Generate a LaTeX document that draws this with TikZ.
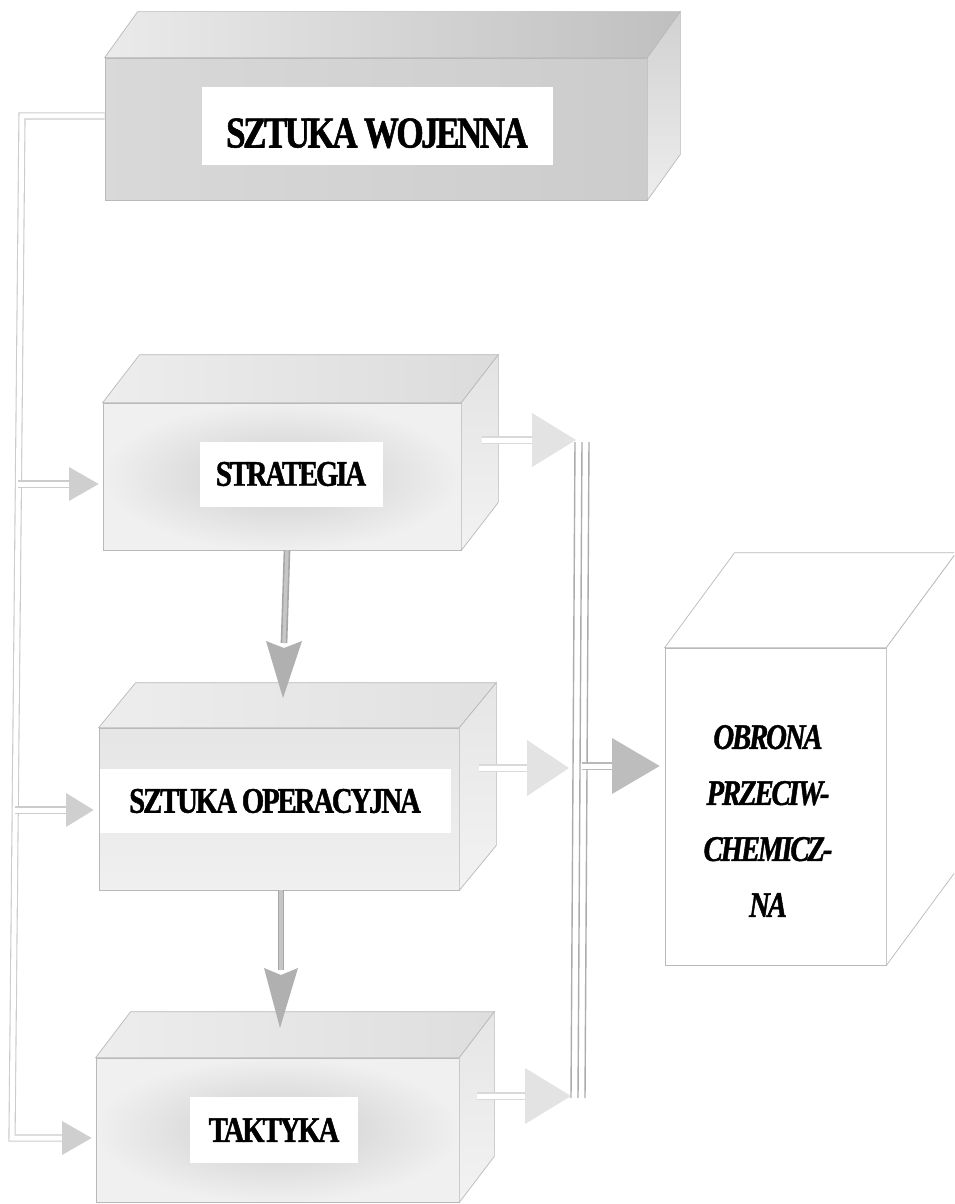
\documentclass[tikz,border=0pt]{standalone}
\usepackage{fontspec}
\newfontfamily\boxfont[FakeStretch=0.8, LetterSpace=-6, BoldFeatures={FakeBold=1.2}, BoldItalicFeatures={FakeBold=1.2}]{Liberation Serif}
\usetikzlibrary{calc}
\begin{document}
\begin{tikzpicture}[x=1pt,y=-1pt,
  edge/.style={draw=gray!55, line width=0.7pt},
  frontface/.style={edge, inner sep=0pt},
  labelbox/.style={fill=white, inner sep=0pt, font=\boxfont\bfseries\fontsize{36}{42}\selectfont},
  leftpipe/.style={draw=gray!40, double=white, line width=1.1pt, double distance=5pt},
  outpipe/.style={draw=gray!30, double=white, line width=1.1pt, double distance=5pt},
  downpipe/.style={draw=gray!70, double=gray!45, line width=1.6pt, double distance=3.5pt},
  buspipe/.style={draw=gray!65, line width=1.4pt},
  inhead/.style={fill=gray!38},
  outhead/.style={fill=gray!22},
  downhead/.style={fill=gray!62},
  finalhead/.style={fill=gray!52}
]
\useasboundingbox (0,0) rectangle (954,1204);
\clip (0,0) rectangle (954,1204);
\fill[white] (0,0) rectangle (954,1204);

% ---------- SZTUKA WOJENNA ----------
\node[frontface, minimum width=542pt, minimum height=142pt,
      left color=gray!30, middle color=gray!13, right color=gray!40] (war) at (376,129) {};
\shade[edge, left color=gray!16, right color=gray!50]
  (war.north west) -- ++(33,-46) -- ($(war.north east)+(33,-46)$) -- (war.north east) -- cycle;
\shade[edge, top color=gray!36, bottom color=gray!14]
  (war.north east) -- ++(33,-46) -- ($(war.south east)+(33,-46)$) -- (war.south east) -- cycle;
\node[labelbox, minimum width=351pt, minimum height=77pt, text height=43pt, text depth=0pt,
      font=\boxfont\bfseries\fontsize{44}{50}\selectfont] (warlabel) at (377,126) {SZTUKA WOJENNA};

% ---------- STRATEGIA ----------
\node[frontface, minimum width=358pt, minimum height=147pt,
      inner color=gray!40, outer color=gray!12] (strat) at (282,476.5) {};
\shade[edge, left color=gray!14, right color=gray!28]
  (strat.north west) -- ++(37,-48) -- ($(strat.north east)+(37,-48)$) -- (strat.north east) -- cycle;
\shade[edge, top color=gray!22, bottom color=gray!10]
  (strat.north east) -- ++(37,-48) -- ($(strat.south east)+(37,-48)$) -- (strat.south east) -- cycle;
\node[labelbox, minimum width=183pt, minimum height=65pt] (stratlabel) at (291,474) {STRATEGIA};

% ---------- SZTUKA OPERACYJNA ----------
\node[frontface, minimum width=360pt, minimum height=162pt,
      top color=gray!20, middle color=gray!40, bottom color=gray!12] (oper) at (279,809) {};
\shade[edge, left color=gray!14, right color=gray!24]
  (oper.north west) -- ++(37,-45) -- ($(oper.north east)+(37,-45)$) -- (oper.north east) -- cycle;
\shade[edge, top color=gray!20, bottom color=gray!10]
  (oper.north east) -- ++(37,-45) -- ($(oper.south east)+(37,-45)$) -- (oper.south east) -- cycle;
\node[labelbox, minimum width=351pt, minimum height=64pt] (operlabel) at (275,801) {SZTUKA OPERACYJNA};

% ---------- TAKTYKA ----------
\node[frontface, minimum width=363pt, minimum height=144pt,
      inner color=gray!40, outer color=gray!12] (takt) at (277.5,1130) {};
\shade[edge, left color=gray!14, right color=gray!26]
  (takt.north west) -- ++(35,-46) -- ($(takt.north east)+(35,-46)$) -- (takt.north east) -- cycle;
\shade[edge, top color=gray!20, bottom color=gray!10]
  (takt.north east) -- ++(35,-46) -- ($(takt.south east)+(35,-46)$) -- (takt.south east) -- cycle;
\node[labelbox, minimum width=168pt, minimum height=66pt] (taktlabel) at (274,1130) {TAKTYKA};

% ---------- OBRONA PRZECIWCHEMICZNA ----------
\node[frontface, minimum width=221pt, minimum height=317pt, fill=white] (obr) at (775.5,806.5) {};
\filldraw[edge, fill=white]
  (obr.north west) -- ++(70,-95) -- ($(obr.north east)+(70,-95)$) -- (obr.north east) -- cycle;
\filldraw[edge, fill=white]
  (obr.north east) -- ++(70,-95) -- ($(obr.south east)+(70,-95)$) -- (obr.south east) -- cycle;
\node[align=center, inner sep=0pt,
      font=\boxfont\bfseries\itshape\fontsize{36}{56}\selectfont] (obrlabel) at (768,821)
  {OBRONA\\PRZECIW-\\CHEMICZ-\\NA};

% ---------- left feed line from SZTUKA WOJENNA ----------
\coordinate (lt) at (22,116);
\coordinate (lb) at (12,1138);
\coordinate (ls) at (18.4,484);
\coordinate (lo) at (15.2,810);
\draw[leftpipe] ([yshift=13pt]war.west) -- (lt) -- (lb) -- (62,1138);
\draw[leftpipe] (ls) -- (69,484);
\draw[leftpipe] (lo) -- (66,810);
\fill[inhead] (69,467) -- ([xshift=-4pt]strat.west |- 0,484) -- (69,501) -- cycle;
\fill[inhead] (66,793) -- ([xshift=-5pt]oper.west |- 0,810) -- (66,827) -- cycle;
\fill[inhead] (62,1121) -- ([xshift=-4pt]takt.west |- 0,1138) -- (62,1155) -- cycle;

% ---------- downward arrows ----------
\draw[downpipe] ([xshift=5pt]strat.south) -- (284,643);
\fill[downhead] (266,641) -- (283,698) -- (302,641) -- (284,648) -- cycle;
\draw[downpipe] ([xshift=2pt]oper.south) -- (281,970);
\fill[downhead] (264,968) -- (280,1028) -- (298,968) -- (281,975) -- cycle;

% ---------- collecting bus ----------
\coordinate (bt) at (582,442);
\coordinate (bb) at (578,1098);
\draw[buspipe] ([xshift=-7pt]bt) -- ([xshift=-7pt]bb);
\draw[buspipe] (bt) -- (bb);
\draw[buspipe] ([xshift=7pt]bt) -- ([xshift=7pt]bb);

% ---------- arrows into the bus ----------
\draw[outpipe] (482,440) -- (532,440);
\fill[outhead] (532,413) -- (576,440) -- (532,467) -- cycle;
\draw[outpipe] (479,768) -- (527,768);
\fill[outhead] (527,740) -- (569,768) -- (527,796) -- cycle;
\draw[outpipe] (477,1096) -- (525,1096);
\fill[outhead] (525,1068) -- (571,1096) -- (525,1124) -- cycle;

% ---------- bus to OBRONA ----------
\draw[draw=gray!55, double=white, line width=1.2pt, double distance=5pt] (582,766) -- (612,766);
\fill[finalhead] (612,738) -- ([xshift=-5pt]obr.west |- 0,766) -- (612,794) -- cycle;

\end{tikzpicture}
\end{document}
